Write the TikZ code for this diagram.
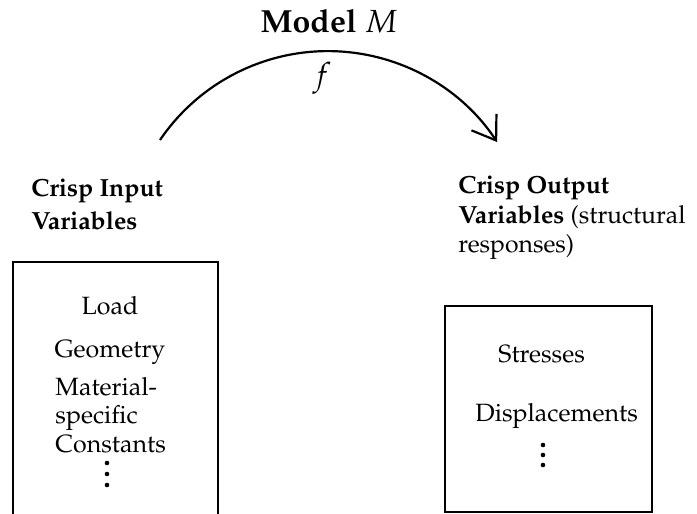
\documentclass[tikz,border=0pt]{standalone}
\usepackage[T1]{fontenc}
\usepackage{mathpazo}
\usetikzlibrary{arrows.meta,positioning}

\tikzset{
  varbox/.style={draw,line width=1pt},
  lab/.style={font=\fontsize{12.4}{15}\selectfont\bfseries,inner sep=0pt,anchor=base west},
  entry/.style={font=\fontsize{12.5}{14}\selectfont,inner sep=0pt},
  maparrow/.style={line width=1.1pt,-{Straight Barb[length=11pt,width=15pt]}},
}

\begin{document}
\begin{tikzpicture}[x=0.5pt,y=0.5pt]
\useasboundingbox (0,0) rectangle (697,514);
% the model and its mapping
\node[font=\fontsize{16}{19}\selectfont\bfseries,inner sep=0pt,anchor=base] (model) at (329,481) {Model $M$};
\node[font=\fontsize{16}{19}\selectfont,inner sep=0pt,anchor=base] (f) at (322,428) {$f$};
\coordinate (fstart) at (160,374);
\draw[maparrow] (fstart) arc[start angle=145.8,end angle=33.5,radius=203] coordinate (fend);
% input side
\node[lab] (in1) at (31,317) {Crisp Input};
\node[lab] (in2) at (31,284) {Variables};
\draw[varbox] (13,-10) rectangle (218,252);
\node[entry,anchor=base] (load) at (110,199) {Load};
\node[entry,anchor=base] (geom) at (110,156) {Geometry};
\node[entry,anchor=base west] (mat1) at (55,118) {Material-};
\node[entry,anchor=base west] (mat2) at (55,90) {specific};
\node[entry,anchor=base west] (mat3) at (55,61) {Constants};
\foreach \y in {51,40,29} \fill (107,\y) circle[radius=2.3];
% output side
\node[lab] (out1) at (458,320) {Crisp Output};
\node[lab] (out2) at (458,290) {Variables \mdseries(structural};
\node[lab,font=\fontsize{12.4}{15}\selectfont] (out3) at (458,261) {responses)};
\draw[varbox] (445,2) rectangle (652,208);
\node[entry,anchor=base west] (stress) at (498,151) {Stresses};
\node[entry,anchor=base west] (displ) at (475,92) {Displacements};
\foreach \y in {69,59,49} \fill (543,\y) circle[radius=2.3];
\end{tikzpicture}
\end{document}
